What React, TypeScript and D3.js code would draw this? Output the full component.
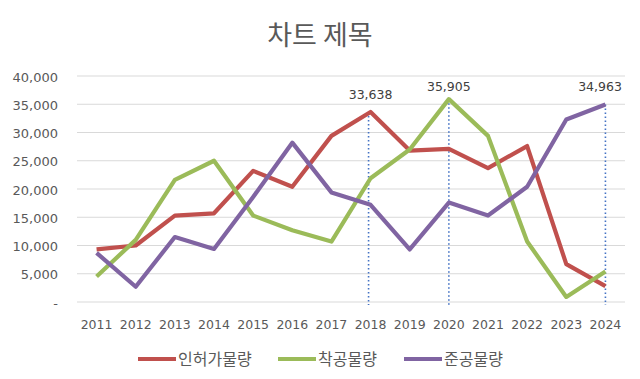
import React from "react";
import * as d3 from "d3";

const years = ["2011","2012","2013","2014","2015","2016","2017","2018","2019","2020","2021","2022","2023","2024"];
const permits = [9300, 10000, 15300, 15700, 23200, 20400, 29400, 33638, 26800, 27100, 23700, 27600, 6700, 2800];
const starts = [4500, 11000, 21600, 25000, 15300, 12700, 10700, 21900, 27000, 35905, 29400, 10700, 900, 5400];
const completions = [8700, 2700, 11500, 9400, 18600, 28200, 19400, 17200, 9300, 17600, 15300, 20400, 32300, 34963];
const yTicks = [0, 5000, 10000, 15000, 20000, 25000, 30000, 35000, 40000];
const seriesNames = ["인허가물량", "착공물량", "준공물량"];
const seriesColors = ["#C0504D", "#9BBB59", "#8064A2"];
const callouts = [
  { series: 0, index: 7 },
  { series: 1, index: 9 },
  { series: 2, index: 13 },
];

const W = 640, H = 379;
const NUMFONT = "'DejaVu Sans', 'Noto Sans CJK KR', sans-serif";
const KFONT = "'Noto Sans CJK KR', 'Noto Sans', sans-serif";

export default function App() {
  const seriesData = [permits, starts, completions];
  const x = d3.scaleBand<string>().domain(years).range([77, 625]);
  const y = d3.scaleLinear().domain([0, 40000]).range([302, 76]);
  const cx = (i: number) => (x(years[i]) as number) + x.bandwidth() / 2;
  const line = d3.line<number>().x((_, i) => cx(i)).y((d) => y(d));
  const fmt = d3.format(",");
  const legendX = [138, 278, 404];

  return (
    <svg width={W} height={H} style={{ position: "absolute", left: 0, top: 0, background: "#fff" }}>
      <rect width={W} height={H} fill="#fff" />
      <text x={320} y={45} textAnchor="middle" fontSize={27} fill="#595959" fontFamily={KFONT}>차트 제목</text>
      {yTicks.map((t) => (
        <g key={t}>
          <line x1={77} x2={625} y1={y(t)} y2={y(t)} stroke="#d9d9d9" strokeWidth={1} />
          <text x={58} y={y(t) + 5.5} textAnchor="end" fontSize={13} fill="#595959" fontFamily={NUMFONT}>
            {t === 0 ? "-" : fmt(t)}
          </text>
        </g>
      ))}
      {years.map((yr, i) => (
        <text key={yr} x={cx(i)} y={328.5} textAnchor="middle" fontSize={12.5} fill="#595959" fontFamily={NUMFONT}>{yr}</text>
      ))}
      {callouts.map((c, k) => (
        <line key={"d" + k} x1={cx(c.index) - (k === 0 ? 2 : 0)} x2={cx(c.index) - (k === 0 ? 2 : 0)} y1={y(seriesData[c.series][c.index])} y2={305}
          stroke="#4472C4" strokeWidth={1.6} strokeDasharray="1.6,2.4" />
      ))}
      {seriesData.map((s, k) => (
        <path key={k} d={line(s) as string} fill="none" stroke={seriesColors[k]} strokeWidth={4.2} strokeLinejoin="round" />
      ))}
      {callouts.map((c, k) => {
        const v = seriesData[c.series][c.index];
        const px = Math.min(cx(c.index), 600);
        return (
          <text key={"t" + k} x={px} y={Math.max(y(v) - 13.3, 90.7)} textAnchor="middle" fontSize={12.5} fill="#404040" fontFamily={NUMFONT}>
            {fmt(v)}
          </text>
        );
      })}
      {seriesNames.map((n, k) => (
        <g key={n}>
          <line x1={legendX[k]} x2={legendX[k] + 38} y1={359} y2={359} stroke={seriesColors[k]} strokeWidth={4.2} />
          <text x={legendX[k] + 40} y={365} fontSize={16} fill="#595959" fontFamily={KFONT}>{n}</text>
        </g>
      ))}
    </svg>
  );
}
